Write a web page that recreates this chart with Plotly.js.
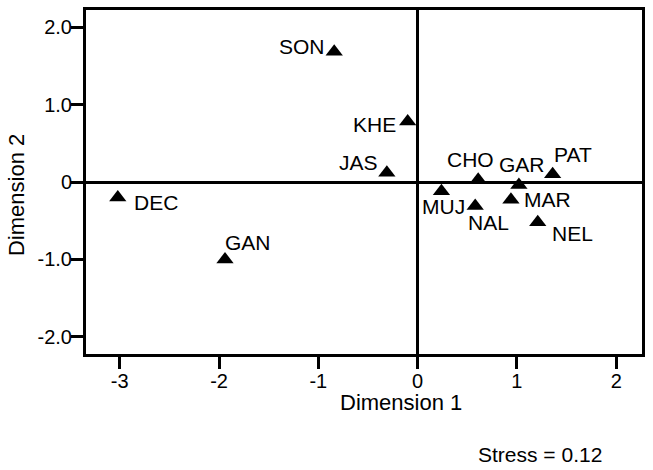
<!DOCTYPE html>
<html>
<head>
<meta charset="utf-8">
<script src="https://cdn.plot.ly/plotly-3.0.1.min.js"></script>
<style>
  html, body { margin: 0; padding: 0; background: #fff; }
  #graph { width: 653px; height: 470px; }
</style>
</head>
<body>
<div id="graph"></div>
<script>
// MDS configuration, 12 districts
var names = ['SON', 'KHE', 'JAS', 'CHO', 'GAR', 'PAT', 'MUJ', 'NAL', 'MAR', 'NEL', 'DEC', 'GAN'];
var dim1 = [-0.84, -0.10, -0.31, 0.61, 1.02, 1.36, 0.24, 0.58, 0.94, 1.21, -3.02, -1.94];
var dim2 = [1.68, 0.78, 0.12, 0.03, -0.04, 0.10, -0.12, -0.31, -0.23, -0.52, -0.20, -1.00];

// axis ticks
var xTicks = [-3, -2, -1, 0, 1, 2];
var xTickText = ['-3', '-2', '-1', '0', '1', '2'];
var yTicks = [2, 1, 0, -1, -2];
var yTickText = ['2.0', '1.0', '0', '-1.0', '-2.0'];

var stressText = 'Stress = 0.12';

var font = '"Liberation Sans", Arial, sans-serif';

var trace1 = {
    x: dim1,
    y: dim2,
    mode: 'markers',
    type: 'scatter',
    marker: {
        symbol: 'triangle-up',
        size: 15,
        color: '#000'
    },
    cliponaxis: false,
    hoverinfo: 'none'
};

// where each name sits next to its triangle: [xanchor, xshift, yshift]
var place = [
    ['right', -7, 5],   // SON
    ['right', -10, -3], // KHE
    ['right', -7, 10],  // JAS
    ['center', -8, 20], // CHO
    ['center', 3, 21],  // GAR
    ['left', -1, 20],   // PAT
    ['center', 2, -15], // MUJ
    ['center', 13, -16],// NAL
    ['left', 11, 0],    // MAR
    ['left', 12, -11],  // NEL
    ['left', 14, -5],   // DEC
    ['left', -2, 17]    // GAN
];

var labels = names.map(function(n, i) {
    return {
        text: n,
        x: dim1[i],
        y: dim2[i],
        xref: 'x', yref: 'y',
        xanchor: place[i][0],
        yanchor: 'middle',
        xshift: place[i][1],
        yshift: place[i][2],
        showarrow: false,
        font: {family: font, size: 21, color: '#000'}
    };
});

var axisCommon = {
    showgrid: false,
    showline: true,
    mirror: true,
    linewidth: 3,
    linecolor: '#000',
    zeroline: true,
    zerolinewidth: 3,
    zerolinecolor: '#000',
    ticks: 'outside',
    ticklen: 12,
    tickwidth: 3,
    tickcolor: '#000',
    ticklabelstandoff: -5,
    tickfont: {family: font, size: 20, color: '#000'},
    tickmode: 'array'
};

var layout = {
    width: 653,
    height: 470,
    showlegend: false,
    paper_bgcolor: '#fff',
    plot_bgcolor: '#fff',
    margin: {l: 86, r: 11, t: 10, b: 116},
    xaxis: Object.assign({}, axisCommon, {
        range: [-3.34, 2.26],
        tickvals: xTicks,
        ticktext: xTickText
    }),
    yaxis: Object.assign({}, axisCommon, {
        range: [-2.22, 2.22],
        tickvals: yTicks,
        ticktext: yTickText
    }),
    annotations: labels.concat([
        {
            text: 'Dimension 1',
            xref: 'paper', yref: 'paper',
            x: 0.5665, y: -0.141,
            xanchor: 'center', yanchor: 'middle',
            showarrow: false,
            font: {family: font, size: 22, color: '#000'}
        },
        {
            text: 'Dimension 2',
            xref: 'paper', yref: 'paper',
            x: -0.126, y: 0.462,
            xanchor: 'center', yanchor: 'middle',
            textangle: -90,
            showarrow: false,
            font: {family: font, size: 22, color: '#000'}
        },
        {
            text: stressText,
            xref: 'paper', yref: 'paper',
            x: 0.8165, y: -0.2936,
            xanchor: 'center', yanchor: 'middle',
            showarrow: false,
            font: {family: font, size: 21, color: '#000'}
        }
    ])
};

Plotly.newPlot('graph', [trace1], layout, {staticPlot: true});
</script>
</body>
</html>
